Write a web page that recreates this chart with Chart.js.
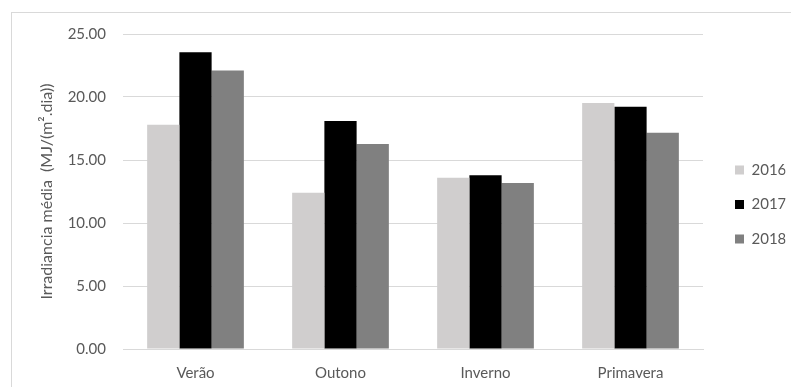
<!DOCTYPE html>
<html>
<head>
<meta charset="utf-8">
<script src="https://cdn.jsdelivr.net/npm/chart.js@4.4.1/dist/chart.umd.min.js"></script>
<style>
  html, body { margin: 0; padding: 0; background: #ffffff; }
  #wrap { position: relative; width: 791px; height: 387px; overflow: hidden; }
  #frame { position: absolute; left: 11px; top: 12px; width: 900px; height: 500px;
           border-left: 1px solid #d9d9d9; border-top: 1px solid #d9d9d9; }
  #c { position: absolute; left: 0; top: 0; }
</style>
</head>
<body>
<div id="wrap">
  <div id="frame"></div>
  <canvas id="c" width="791" height="387"></canvas>
</div>
<script>
// Estações do ano
const seasons = ['Verão', 'Outono', 'Inverno', 'Primavera'];
// Irradiância média por ano (MJ/(m².dia))
const irr2016 = [17.80, 12.40, 13.60, 19.52];
const irr2017 = [23.55, 18.10, 13.78, 19.23];
const irr2018 = [22.11, 16.27, 13.17, 17.17];
const yearLabels = ['2016', '2017', '2018'];
const yTicks = [0, 5, 10, 15, 20, 25];

const FONT = 'Lato, "Open Sans", sans-serif';
const TXT = '#595959';
const GRID = '#d9d9d9';

// moves the legend block to the right of the plot
const legendShift = {
  id: 'legendShift',
  afterLayout(chart) {
    const lg = chart.legend;
    if (!lg) return;
    const dx = 12.5, dy = 13;
    lg.left += dx; lg.right += dx;
    lg.top += dy; lg.bottom += dy;
  }
};

new Chart(document.getElementById('c'), {
  type: 'bar',
  data: {
    labels: seasons,
    datasets: [
      { label: yearLabels[0], data: irr2016, backgroundColor: '#d0cece' },
      { label: yearLabels[1], data: irr2017, backgroundColor: '#000000' },
      { label: yearLabels[2], data: irr2018, backgroundColor: '#808080' }
    ]
  },
  options: {
    responsive: false,
    animation: false,
    events: [],
    layout: { padding: { left: 12, right: 18, top: 34, bottom: 8 } },
    datasets: { bar: { categoryPercentage: 0.667, barPercentage: 1.0, borderWidth: 0 } },
    scales: {
      x: {
        grid: { display: false, drawTicks: false },
        border: { display: true, color: GRID, width: 1 },
        ticks: { color: TXT, font: { family: FONT, size: 15 }, padding: 15 },
        afterFit(s) { s.height = 30; }
      },
      y: {
        min: 0, max: 25,
        afterBuildTicks(s) { s.ticks = yTicks.map(v => ({ value: v })); },
        grid: { color: GRID, lineWidth: 1, drawTicks: false },
        border: { display: false },
        ticks: {
          color: TXT, font: { family: FONT, size: 15 }, padding: 17,
          callback: v => Number(v).toFixed(2)
        },
        title: {
          display: true,
          text: 'Irradiancia média  (MJ/(m².dia))',
          color: TXT,
          font: { family: FONT, size: 16, weight: 'normal' },
          padding: { top: 25, bottom: 0 }
        },
        afterFit(s) { s.width = 111; }
      }
    },
    plugins: {
      legend: {
        position: 'right',
        fullSize: false,
        maxWidth: 70,
        labels: {
          boxWidth: 9, boxHeight: 9, padding: 19.5,
          color: TXT, font: { family: FONT, size: 15 }
        }
      },
      tooltip: { enabled: false }
    }
  },
  plugins: [legendShift]
});
</script>
</body>
</html>
